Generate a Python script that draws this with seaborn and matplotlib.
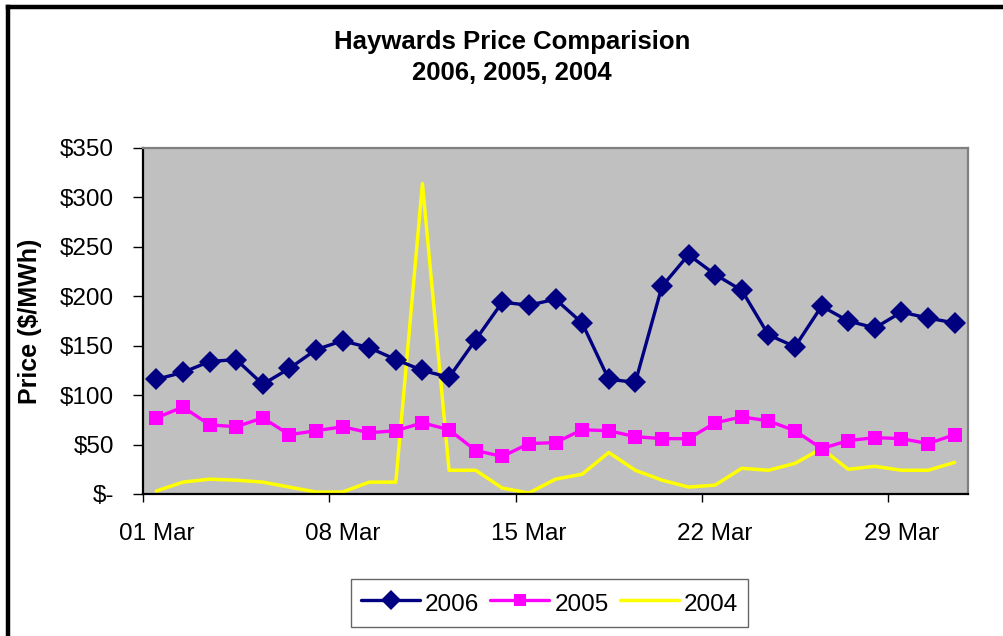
import matplotlib
matplotlib.use("Agg")
import matplotlib.pyplot as plt
from matplotlib.lines import Line2D
from matplotlib.ticker import FixedLocator
import numpy as np
import pandas as pd
import seaborn as sns

sns.set_theme(style="white")
plt.rcParams["font.family"] = ["Liberation Sans", "DejaVu Sans"]
plt.rcParams["text.color"] = "black"
plt.rcParams["axes.labelcolor"] = "black"
plt.rcParams["xtick.color"] = "black"
plt.rcParams["ytick.color"] = "black"

days = list(range(1, 32))
price_2006 = [116, 123, 134, 136, 111, 127, 146, 155, 148, 136, 125, 118, 156, 194, 191, 197,
              173, 116, 113, 210, 242, 222, 206, 161, 149, 190, 175, 168, 184, 178, 173]
price_2005 = [77, 88, 70, 68, 77, 60, 64, 68, 62, 64, 72, 65, 44, 38, 51, 52,
              65, 64, 58, 56, 56, 72, 78, 74, 64, 46, 54, 57, 56, 51, 60]
price_2004 = [3, 12, 15, 14, 12, 7, 2, 2, 12, 12, 314, 24, 24, 6, 1, 15,
              20, 42, 24, 14, 7, 9, 26, 24, 31, 46, 25, 28, 24, 24, 32]
tick_days = [1, 8, 15, 22, 29]
tick_labels = ["01 Mar", "08 Mar", "15 Mar", "22 Mar", "29 Mar"]
y_ticks = [0, 50, 100, 150, 200, 250, 300, 350]
y_labels = ["$-", "$50", "$100", "$150", "$200", "$250", "$300", "$350"]

df = pd.DataFrame({"day": days, "2006": price_2006, "2005": price_2005, "2004": price_2004})

fig = plt.figure(figsize=(10.04, 6.36), dpi=100)
ax = fig.add_axes([143 / 1004, 1 - 494 / 636, 825 / 1004, 346 / 636])
ax.set_facecolor("#C0C0C0")

sns.lineplot(data=df, x="day", y="2004", ax=ax, color="#FFFF00", linewidth=2.5, label="2004")
sns.lineplot(data=df, x="day", y="2005", ax=ax, color="#FF00FF", linewidth=2.4,
             marker="s", markersize=10, markeredgewidth=0, label="2005")
sns.lineplot(data=df, x="day", y="2006", ax=ax, color="#000080", linewidth=2.4,
             marker="D", markersize=11, markeredgewidth=0, label="2006")

ax.set_xlim(0.5, 31.5)
ax.set_ylim(0, 350)
ax.set_xticks(tick_days)
ax.set_xticklabels(tick_labels)
ax.xaxis.set_minor_locator(FixedLocator([0.5, 7.5, 14.5, 21.5, 28.5]))
ax.tick_params(axis="x", which="major", length=0, pad=21, labelsize=17.5, colors="black")
ax.tick_params(axis="x", which="minor", length=6, width=1, color="black", direction="out", bottom=True)
ax.set_yticks(y_ticks)
ax.set_yticklabels(y_labels)
ax.tick_params(axis="y", length=7, width=1, pad=14, labelsize=17.5, colors="black", direction="out", left=True)
ax.set_xlabel("")
ax.set_ylabel("Price ($/MWh)", fontsize=18, fontweight="bold", color="black")
ax.yaxis.set_label_coords(-0.1224, 0.5)

for side in ["left", "bottom"]:
    ax.spines[side].set_color("black")
    ax.spines[side].set_linewidth(1.6)
for side in ["top", "right"]:
    ax.spines[side].set_color("#808080")
    ax.spines[side].set_linewidth(1.6)

handles, labels = ax.get_legend_handles_labels()
order = [labels.index("2006"), labels.index("2005"), labels.index("2004")]
leg = fig.legend([handles[i] for i in order], [labels[i] for i in order],
                 loc="center", bbox_to_anchor=(549.5 / 1004, 1 - 603 / 636), ncol=3,
                 fontsize=17.5, frameon=True, fancybox=False, handlelength=2.43,
                 handleheight=1.35, handletextpad=0.2, columnspacing=0.45,
                 borderpad=0.42, markerscale=0.9)
leg.get_frame().set_edgecolor("#404040")
leg.get_frame().set_linewidth(1.0)
ax.get_legend().remove()

fig.text(512 / 1004, 1 - 42 / 636, "Haywards Price Comparision", ha="center", va="center",
         fontsize=18.5, fontweight="bold", color="black")
fig.text(512 / 1004, 1 - 73 / 636, "2006, 2005, 2004", ha="center", va="center",
         fontsize=18.5, fontweight="bold", color="black")

# outer chart border (right and bottom edges fall outside the image)
fig.add_artist(Line2D([8 / 1004, 8 / 1004], [0, 1 - 7 / 636], transform=fig.transFigure,
                      color="black", linewidth=3.2, solid_capstyle="projecting"))
fig.add_artist(Line2D([8 / 1004, 1], [1 - 7 / 636, 1 - 7 / 636], transform=fig.transFigure,
                      color="black", linewidth=3.2, solid_capstyle="projecting"))

fig.savefig("out.png", dpi=100)
